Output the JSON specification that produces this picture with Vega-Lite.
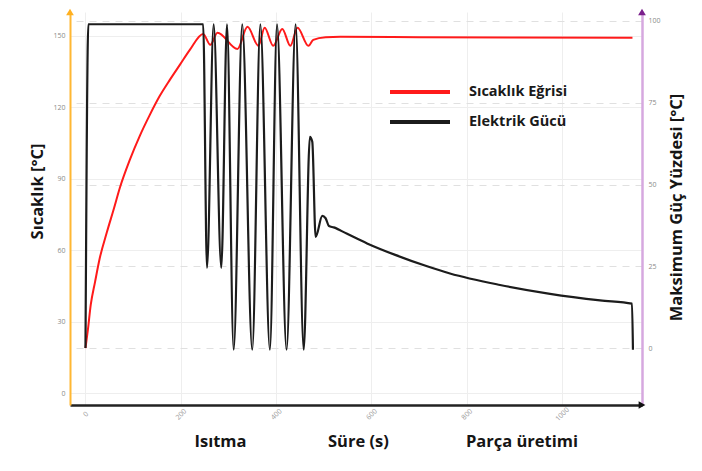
{
  "$schema": "https://vega.github.io/schema/vega-lite/v6.json",
  "width": 572,
  "height": 393,
  "autosize": "none",
  "padding": {"left": 70, "top": 12, "right": 60, "bottom": 66},
  "background": "white",
  "config": {
    "view": {"stroke": null},
    "font": "Open Sans",
    "axis": {"ticks": false, "labelFont": "Open Sans", "titleFont": "Open Sans"}
  },
  "datasets": {
    "temp": [
      {"s": "Sıcaklık Eğrisi", "t": 0, "v": 18.9}, {"s": "Sıcaklık Eğrisi", "t": 5, "v": 26.5}, {"s": "Sıcaklık Eğrisi", "t": 11, "v": 37}, {"s": "Sıcaklık Eğrisi", "t": 20, "v": 46.6},
      {"s": "Sıcaklık Eğrisi", "t": 30, "v": 56.7}, {"s": "Sıcaklık Eğrisi", "t": 45, "v": 67.6}, {"s": "Sıcaklık Eğrisi", "t": 60, "v": 77.7}, {"s": "Sıcaklık Eğrisi", "t": 72, "v": 86.1},
      {"s": "Sıcaklık Eğrisi", "t": 93, "v": 97.9}, {"s": "Sıcaklık Eğrisi", "t": 114, "v": 108}, {"s": "Sıcaklık Eğrisi", "t": 135, "v": 116.8}, {"s": "Sıcaklık Eğrisi", "t": 156, "v": 124.8},
      {"s": "Sıcaklık Eğrisi", "t": 177, "v": 131.5}, {"s": "Sıcaklık Eğrisi", "t": 198, "v": 137.8}, {"s": "Sıcaklık Eğrisi", "t": 219, "v": 144.1}, {"s": "Sıcaklık Eğrisi", "t": 247, "v": 150.8},
      {"s": "Sıcaklık Eğrisi", "t": 262, "v": 146.2}, {"s": "Sıcaklık Eğrisi", "t": 277, "v": 151.3}, {"s": "Sıcaklık Eğrisi", "t": 319, "v": 144.5}, {"s": "Sıcaklık Eğrisi", "t": 340, "v": 153.8},
      {"s": "Sıcaklık Eğrisi", "t": 363, "v": 145.8}, {"s": "Sıcaklık Eğrisi", "t": 376, "v": 153.4}, {"s": "Sıcaklık Eğrisi", "t": 394, "v": 145.8}, {"s": "Sıcaklık Eğrisi", "t": 413, "v": 152.9},
      {"s": "Sıcaklık Eğrisi", "t": 430, "v": 145.8}, {"s": "Sıcaklık Eğrisi", "t": 445, "v": 153.4}, {"s": "Sıcaklık Eğrisi", "t": 468, "v": 145.8}, {"s": "Sıcaklık Eğrisi", "t": 478, "v": 148.3},
      {"s": "Sıcaklık Eğrisi", "t": 504, "v": 149.4}, {"s": "Sıcaklık Eğrisi", "t": 535, "v": 149.6}, {"s": "Sıcaklık Eğrisi", "t": 700, "v": 149.4}, {"s": "Sıcaklık Eğrisi", "t": 900, "v": 149.3},
      {"s": "Sıcaklık Eğrisi", "t": 1148, "v": 149.2}
    ],
    "power": [
      {"s": "Elektrik Gücü", "t": 0, "v": 0}, {"s": "Elektrik Gücü", "t": 6, "v": 99}, {"s": "Elektrik Gücü", "t": 247, "v": 99}, {"s": "Elektrik Gücü", "t": 255, "v": 24.5},
      {"s": "Elektrik Gücü", "t": 269, "v": 99}, {"s": "Elektrik Gücü", "t": 285, "v": 24.5}, {"s": "Elektrik Gücü", "t": 297, "v": 99}, {"s": "Elektrik Gücü", "t": 311, "v": -0.5},
      {"s": "Elektrik Gücü", "t": 329, "v": 99}, {"s": "Elektrik Gücü", "t": 350, "v": -0.5}, {"s": "Elektrik Gücü", "t": 367, "v": 99}, {"s": "Elektrik Gücü", "t": 387, "v": -0.5},
      {"s": "Elektrik Gücü", "t": 402, "v": 99}, {"s": "Elektrik Gücü", "t": 422, "v": -0.5}, {"s": "Elektrik Gücü", "t": 441, "v": 99}, {"s": "Elektrik Gücü", "t": 458, "v": -0.5},
      {"s": "Elektrik Gücü", "t": 471, "v": 64.6}, {"s": "Elektrik Gücü", "t": 476, "v": 63.1}, {"s": "Elektrik Gücü", "t": 483, "v": 34}, {"s": "Elektrik Gücü", "t": 497, "v": 40.4},
      {"s": "Elektrik Gücü", "t": 504, "v": 39.7}, {"s": "Elektrik Gücü", "t": 511, "v": 37.3}, {"s": "Elektrik Gücü", "t": 521, "v": 36.9}, {"s": "Elektrik Gücü", "t": 548, "v": 35},
      {"s": "Elektrik Gücü", "t": 591, "v": 32}, {"s": "Elektrik Gücü", "t": 650, "v": 28.5}, {"s": "Elektrik Gücü", "t": 717, "v": 25}, {"s": "Elektrik Gücü", "t": 765, "v": 22.8},
      {"s": "Elektrik Gücü", "t": 870, "v": 19.3}, {"s": "Elektrik Gücü", "t": 975, "v": 16.6}, {"s": "Elektrik Gücü", "t": 1080, "v": 14.6}, {"s": "Elektrik Gücü", "t": 1147, "v": 13.6},
      {"s": "Elektrik Gücü", "t": 1149, "v": -0.5}
    ]
  },
  "layer": [
    {
      "layer": [
        {
          "data": {"name": "temp"},
          "mark": {"type": "line", "interpolate": "monotone", "strokeWidth": 2},
          "encoding": {
            "x": {
              "field": "t", "type": "quantitative",
              "scale": {"domain": [-32.5, 1168], "nice": false, "zero": false},
              "axis": {
                "values": [0, 200, 400, 600, 800, 1000], "format": "d",
                "labelAngle": -45, "labelAlign": "center", "labelBaseline": "middle",
                "labelFontSize": 7, "labelColor": "#999999", "labelPadding": 9,
                "domainColor": "#222222", "domainWidth": 2.5,
                "grid": true, "gridColor": "#eeeeee", "gridWidth": 1,
                "title": "Isıtma\u00a0\u00a0\u00a0\u00a0\u00a0\u00a0\u00a0\u00a0\u00a0\u00a0\u00a0\u00a0\u00a0\u00a0\u00a0\u00a0\u00a0\u00a0\u00a0Süre (s)\u00a0\u00a0\u00a0\u00a0\u00a0\u00a0\u00a0\u00a0\u00a0\u00a0\u00a0\u00a0\u00a0\u00a0\u00a0\u00a0\u00a0\u00a0Parça üretimi",
                "titleFontSize": 16.5, "titleFontWeight": "bold", "titleColor": "#151515",
                "titleX": 124, "titleY": 41, "titleAlign": "left", "titleBaseline": "alphabetic"
              }
            },
            "y": {
              "field": "v", "type": "quantitative",
              "scale": {"domain": [-5, 160], "nice": false, "zero": false},
              "axis": {
                "orient": "left",
                "values": [0, 30, 60, 90, 120, 150],
                "labelFontSize": 7, "labelColor": "#8a8a8a", "labelPadding": 5,
                "domainColor": "#FFB733", "domainWidth": 2,
                "grid": true, "gridColor": "#eeeeee", "gridWidth": 1,
                "title": "Sıcaklık [°C]",
                "titleFontSize": 16.5, "titleFontWeight": "bold", "titleColor": "#151515",
                "titleAngle": -90, "titleX": -33, "titleY": 179, "titleAlign": "center", "titleBaseline": "middle"
              }
            },
            "color": {
              "field": "s", "type": "nominal",
              "scale": {"domain": ["Sıcaklık Eğrisi", "Elektrik Gücü"], "range": ["#ff1a1a", "#1c1c1c"]},
              "legend": {
                "orient": "none", "legendX": 338, "legendY": 68, "title": null,
                "symbolType": "M-3,0H3", "symbolSize": 400, "symbolStrokeWidth": 4,
                "labelFont": "Open Sans", "labelFontWeight": "bold", "labelFontSize": 14.5, "labelColor": "#1a1a1a",
                "labelOffset": 37, "rowPadding": 10, "padding": 0
              }
            }
          }
        },
        {
          "data": {"values": [{"a": 1}]},
          "mark": {"type": "point", "shape": "triangle-up", "filled": true, "color": "#FFB020", "opacity": 1, "size": 60},
          "encoding": {
            "x": {"datum": -32.5, "type": "quantitative"},
            "y": {"datum": 160, "type": "quantitative"}
          }
        },
        {
          "data": {"values": [{"a": 1}]},
          "mark": {"type": "point", "shape": "triangle-right", "filled": true, "color": "#111111", "opacity": 1, "size": 60},
          "encoding": {
            "x": {"datum": 1168, "type": "quantitative"},
            "y": {"datum": -5, "type": "quantitative"}
          }
        }
      ]
    },
    {
      "layer": [
        {
          "data": {"name": "power"},
          "mark": {"type": "line", "interpolate": "monotone", "strokeWidth": 2.2},
          "encoding": {
            "x": {"field": "t", "type": "quantitative"},
            "y": {
              "field": "v", "type": "quantitative",
              "scale": {"domain": [-17.4, 102.75], "nice": false, "zero": false},
              "axis": {
                "orient": "right",
                "values": [0, 25, 50, 75, 100],
                "labelFontSize": 7, "labelColor": "#8a8a8a", "labelPadding": 6,
                "domainColor": "#D6A8DF", "domainWidth": 2.5,
                "grid": true, "gridColor": "#e0e0e0", "gridWidth": 1, "gridDash": [7, 6],
                "title": "Maksimum Güç Yüzdesi [°C]",
                "titleFontSize": 16.5, "titleFontWeight": "bold", "titleColor": "#151515",
                "titleAngle": -90, "titleX": 34, "titleY": 195, "titleAlign": "center", "titleBaseline": "middle"
              }
            },
            "color": {"field": "s", "type": "nominal"}
          }
        },
        {
          "data": {"values": [{"a": 1}]},
          "mark": {"type": "point", "shape": "triangle-up", "filled": true, "color": "#7B1F8C", "opacity": 1, "size": 60},
          "encoding": {
            "x": {"datum": 1168, "type": "quantitative"},
            "y": {"datum": 102.75, "type": "quantitative"}
          }
        }
      ]
    }
  ],
  "resolve": {"scale": {"y": "independent"}}
}
